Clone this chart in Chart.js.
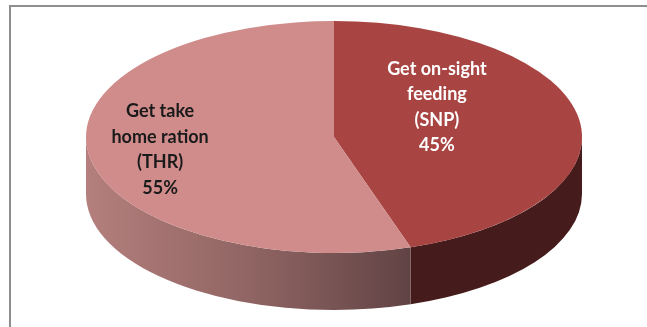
<!DOCTYPE html>
<html>
<head>
<meta charset="utf-8">
<script src="https://cdn.jsdelivr.net/npm/chart.js@4.4.0/dist/chart.umd.min.js"></script>
<style>
  html, body { margin: 0; padding: 0; background: #fff; overflow: hidden; }
  #wrap { position: relative; width: 647px; height: 327px; overflow: hidden; }
  #frame { position: absolute; left: 9px; top: 5px; width: 700px; height: 400px; border: 2px solid #8e8e8e; }
  canvas { position: absolute; left: 0; top: 0; }
</style>
</head>
<body>
<div id="wrap">
  <div id="frame"></div>
  <canvas id="pieChart" width="647" height="327"></canvas>
</div>
<script>
// data
const categories = ['Get on-sight feeding (SNP)', 'Get take home ration (THR)'];
const shares = [45, 55];
const labelLines = [['Get on-sight', 'feeding', '(SNP)'], ['Get take', 'home ration', '(THR)']];

// look
const topColors = ['#a84442', '#cf8c8b'];
const textColors = ['#ffffff', '#1a1a1a'];
const ell = { cx: 334, cy: 137, rx: 248, ry: 116, depth: 57 };
const labelAnchor = [{ f: 0.42, dy: -22 }, { f: 0.71, dy: 0 }];

function sideFill(ctx, i, X, r) {
  if (i === 0) return '#451c1b';
  const g = ctx.createLinearGradient(X - r, 0, X + 0.4 * r, 0);
  g.addColorStop(0, '#b47f7d');
  g.addColorStop(0.5, '#8d6361');
  g.addColorStop(1, '#5b3e40');
  return g;
}

// squash the flat pie into an ellipse and give it a side wall
const pie3d = {
  id: 'pie3d',
  beforeDatasetsDraw(chart) {
    const ctx = chart.ctx;
    const arcs = chart.getDatasetMeta(0).data;
    const r = arcs[0].outerRadius, X = arcs[0].x, Y = arcs[0].y;
    ctx.save();
    ctx.translate(ell.cx, ell.cy);
    ctx.scale(ell.rx / r, ell.ry / r);
    ctx.translate(-X, -Y);
    const d = ell.depth * r / ell.ry;
    arcs.forEach((arc, i) => {
      const s = Math.max(arc.startAngle, 0);
      const e = Math.min(arc.endAngle, Math.PI);
      if (e <= s) return;
      ctx.beginPath();
      ctx.arc(X, Y, r, s, e);
      ctx.arc(X, Y + d, r, e, s, true);
      ctx.closePath();
      ctx.fillStyle = sideFill(ctx, i, X, r);
      ctx.fill();
    });
  },
  afterDatasetsDraw(chart) {
    const ctx = chart.ctx;
    ctx.restore();
    const arcs = chart.getDatasetMeta(0).data;
    ctx.save();
    ctx.font = 'bold 18px Lato';
    ctx.textAlign = 'center';
    ctx.textBaseline = 'middle';
    arcs.forEach((arc, i) => {
      const mid = (arc.startAngle + arc.endAngle) / 2;
      const a = labelAnchor[i];
      const x = ell.cx + Math.cos(mid) * a.f * ell.rx;
      const y = ell.cy + Math.sin(mid) * a.f * ell.ry + a.dy;
      const lines = labelLines[i].concat([shares[i] + '%']);
      const lh = 25.5;
      ctx.fillStyle = textColors[i];
      lines.forEach((t, k) => {
        ctx.fillText(t, x, y + (k - (lines.length - 1) / 2) * lh);
      });
    });
    ctx.restore();
  }
};

new Chart(document.getElementById('pieChart'), {
  type: 'pie',
  data: {
    labels: categories,
    datasets: [{
      data: shares,
      backgroundColor: topColors,
      borderWidth: 0,
      hoverOffset: 0
    }]
  },
  options: {
    responsive: false,
    animation: false,
    plugins: {
      legend: { display: false },
      tooltip: { enabled: false }
    }
  },
  plugins: [pie3d]
});
</script>
</body>
</html>
